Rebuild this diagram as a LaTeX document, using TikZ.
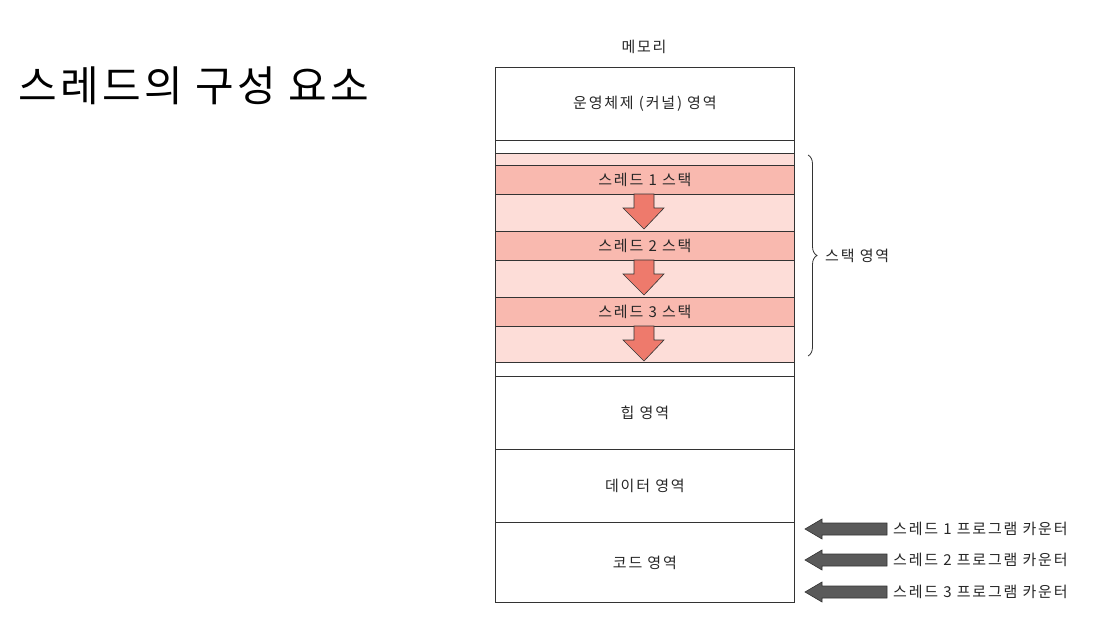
\documentclass[tikz,border=0pt]{standalone}
\usepackage{fontspec}
\setmainfont{Noto Sans CJK KR}
\usetikzlibrary{decorations.pathreplacing}
\definecolor{pinkbg}{HTML}{FDDDD8}
\definecolor{pinkstripe}{HTML}{F9B9AF}
\definecolor{arrowred}{HTML}{EE7A6C}
\definecolor{darkarrow}{HTML}{5A5A5A}
\definecolor{linec}{HTML}{333333}
\newcommand{\bodyfont}{\fontsize{15}{17}\selectfont\addfontfeature{LetterSpace=12}}
\begin{document}
\begin{tikzpicture}[x=1pt,y=-1pt,
  region/.style={draw=linec,line width=0.8pt,minimum width=299pt,inner sep=0pt,anchor=north west,font=\bodyfont,text=black!85},
  lbl/.style={font=\bodyfont,inner sep=0pt,text=black!85},
  downarrow/.style={fill=arrowred,draw=linec,line width=0.6pt},
  pcarrow/.style={fill=darkarrow,draw=black!80,line width=0.6pt}]
\useasboundingbox (0,0) rectangle (1096,626);
% title
\node[anchor=west,inner sep=0pt,font=\fontsize{42}{46}\selectfont\addfontfeature{LetterSpace=8}] (title) at (18,86) {스레드의 구성 요소};
\node[lbl] (memlbl) at (644,47) {메모리};
% regions
\node[region,minimum height=73pt] (kernel) at (495,67) {운영체제 (커널) 영역};
\node[region,minimum height=13pt] (gap1) at (495,140) {};
\node[region,fill=pinkbg,minimum height=209pt] (stack) at (495,153) {};
\node[region,minimum height=14pt] (gap2) at (495,362) {};
\node[region,minimum height=73pt] (heap) at (495,376) {힙 영역};
\node[region,minimum height=73pt] (data) at (495,449) {데이터 영역};
\node[region,minimum height=80pt] (code) at (495,522) {코드 영역};
% stack stripes
\node[region,fill=pinkstripe,minimum height=29pt] (s1) at (495,165) {스레드 1 스택};
\node[region,fill=pinkstripe,minimum height=29pt] (s2) at (495,231) {스레드 2 스택};
\node[region,fill=pinkstripe,minimum height=29pt] (s3) at (495,297) {스레드 3 스택};
% down arrows
\foreach \y in {194,260,326}{
  \draw[downarrow] (634,\y) -- (654,\y) -- (654,\y+14) -- (664,\y+14) -- (644,\y+35) -- (623,\y+14) -- (634,\y+14) -- cycle;
}
% brace
\draw[decorate,decoration={brace,amplitude=9pt},line width=0.8pt,linec] (808,155) -- (808,356);
\node[lbl,anchor=west] (stacklbl) at (825,256) {스택 영역};
% program counter arrows
\foreach \y/\n in {529/1,560/2,592/3}{
  \draw[pcarrow] (887,\y-6) -- (822,\y-6) -- (822,\y-10) -- (805,\y) -- (822,\y+10) -- (822,\y+6) -- (887,\y+6) -- cycle;
  \node[lbl,anchor=west] (pc\n) at (893,\y) {스레드 \n\ 프로그램 카운터};
}
\end{tikzpicture}
\end{document}
